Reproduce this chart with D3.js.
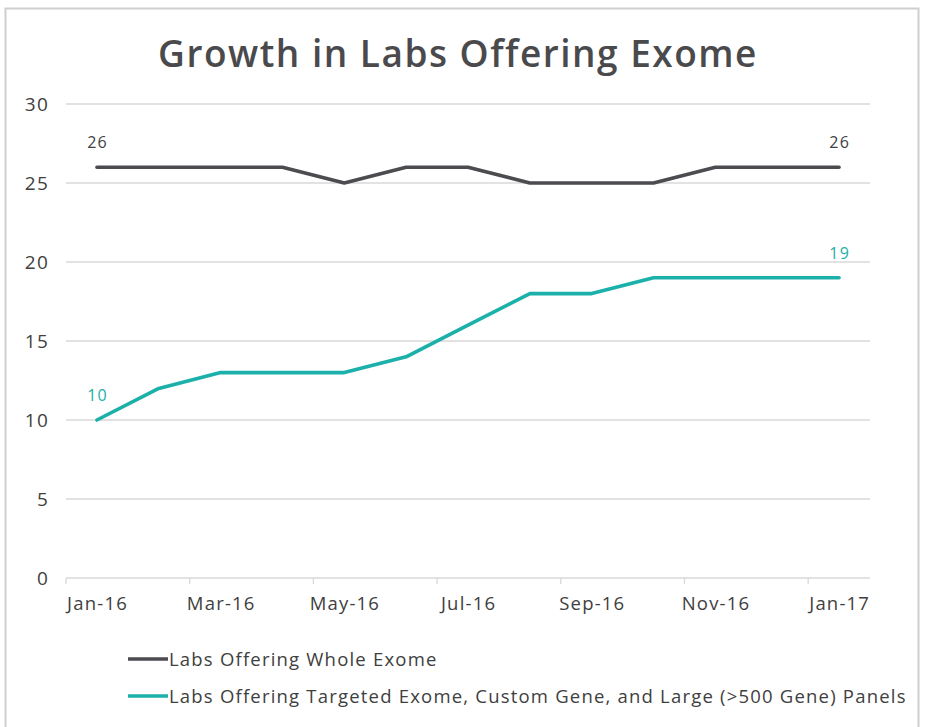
<!DOCTYPE html>
<html>
<head>
<meta charset="utf-8">
<script src="https://cdn.jsdelivr.net/npm/d3@7"></script>
<style>
  html, body { margin: 0; padding: 0; background: #fff; }
  svg { display: block; font-family: "Open Sans", Lato, sans-serif; letter-spacing: 1.2px; }
</style>
</head>
<body>
<svg id="chart" width="925" height="727"></svg>
<script>
// Monthly survey points, Jan 2016 through Jan 2017
const months = ["Jan-16","Feb-16","Mar-16","Apr-16","May-16","Jun-16","Jul-16",
                "Aug-16","Sep-16","Oct-16","Nov-16","Dec-16","Jan-17"];
const wholeExome = [26, 26, 26, 26, 25, 26, 26, 25, 25, 25, 26, 26, 26];
const targetedPanels = [10, 12, 13, 13, 13, 14, 16, 18, 18, 19, 19, 19, 19];
const yTicks = [0, 5, 10, 15, 20, 25, 30];
const seriesNames = [
  "Labs Offering Whole Exome",
  "Labs Offering Targeted Exome, Custom Gene, and Large (>500 Gene) Panels"
];
const seriesColors = ["#4b4b50", "#1cb0aa"];

const svg = d3.select("#chart");

// outer frame
svg.append("rect")
  .attr("x", 5.5).attr("y", 8.5).attr("width", 913).attr("height", 730)
  .attr("fill", "#fff").attr("stroke", "#cfcfcf").attr("stroke-width", 2);

// title
svg.append("text")
  .attr("x", 458).attr("y", 67)
  .attr("text-anchor", "middle")
  .attr("font-size", 37).attr("font-weight", 600)
  .attr("letter-spacing", "1.5px")
  .attr("fill", "#4a4a4d")
  .text("Growth in Labs Offering Exome");

const plot = { left: 66, right: 870, top: 104, bottom: 578 };

const x = d3.scaleBand().domain(months).range([plot.left, plot.right]).padding(0);
const y = d3.scaleLinear().domain([0, 30]).range([plot.bottom, plot.top]);
const cx = m => x(m) + x.bandwidth() / 2;

// horizontal gridlines
svg.append("g").selectAll("line").data(yTicks.filter(t => t > 0)).join("line")
  .attr("x1", plot.left).attr("x2", plot.right)
  .attr("y1", d => y(d)).attr("y2", d => y(d))
  .attr("stroke", "#d9d9d9").attr("stroke-width", 1.3);

// y labels
svg.append("g").selectAll("text").data(yTicks).join("text")
  .attr("x", 49).attr("y", d => y(d) + 7)
  .attr("text-anchor", "end")
  .attr("font-size", 19).attr("fill", "#404040")
  .text(d => d);

// x axis line + ticks at every other band boundary
const xAxis = svg.append("g");
xAxis.append("line")
  .attr("x1", plot.left).attr("x2", plot.right)
  .attr("y1", plot.bottom).attr("y2", plot.bottom)
  .attr("stroke", "#d9d9d9").attr("stroke-width", 1.3);
const tickMonths = months.filter((d, i) => i % 2 === 0);
xAxis.selectAll("line.tick").data(tickMonths).join("line")
  .attr("class", "tick")
  .attr("x1", d => x(d)).attr("x2", d => x(d))
  .attr("y1", plot.bottom).attr("y2", plot.bottom + 6)
  .attr("stroke", "#d9d9d9").attr("stroke-width", 1.3);
xAxis.selectAll("text").data(tickMonths).join("text")
  .attr("x", d => cx(d) + 0.6).attr("y", plot.bottom + 32)
  .attr("text-anchor", "middle")
  .attr("font-size", 18.5).attr("fill", "#404040")
  .text(d => d);

// lines
const line = d3.line().x((d, i) => cx(months[i])).y(d => y(d));
[wholeExome, targetedPanels].forEach((vals, k) => {
  svg.append("path").datum(vals)
    .attr("d", line)
    .attr("fill", "none")
    .attr("stroke", seriesColors[k])
    .attr("stroke-width", 3.6)
    .attr("stroke-linejoin", "round")
    .attr("stroke-linecap", "round");
});

// end-point value labels
const endLabels = [];
[wholeExome, targetedPanels].forEach((vals, k) => {
  [0, vals.length - 1].forEach(i => endLabels.push({ i, v: vals[i], k }));
});
svg.append("g").selectAll("text").data(endLabels).join("text")
  .attr("x", d => cx(months[d.i]) + 0.6)
  .attr("y", d => y(d.v) - 19)
  .attr("text-anchor", "middle")
  .attr("font-size", 16)
  .attr("fill", d => d.k === 0 ? "#404040" : seriesColors[1])
  .text(d => d.v);

// legend
const legend = svg.append("g");
seriesNames.forEach((name, k) => {
  const ly = 659 + k * 37;
  legend.append("line")
    .attr("x1", 128).attr("x2", 168).attr("y1", ly).attr("y2", ly)
    .attr("stroke", seriesColors[k]).attr("stroke-width", 3.6);
  legend.append("text")
    .attr("x", 169).attr("y", ly + 7)
    .attr("font-size", 18.5).attr("fill", "#404040")
    .text(name);
});
</script>
</body>
</html>
